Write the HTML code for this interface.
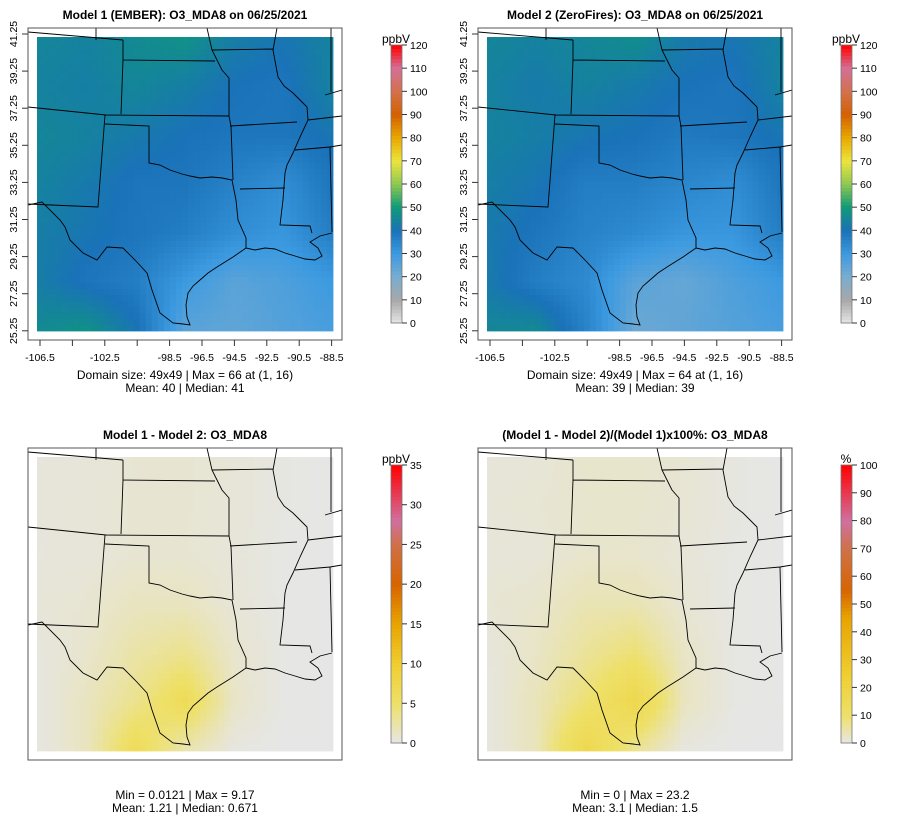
<!DOCTYPE html>
<html><head><meta charset="utf-8">
<style>
html,body{margin:0;padding:0;background:#fff;}
svg{display:block;font-family:"Liberation Sans",sans-serif;}
</style></head>
<body>
<svg id="chart" width="900" height="840" viewBox="0 0 900 840">
<defs>
<clipPath id="boxclip"><rect x="28" y="28" width="314" height="312"/></clipPath>
<g id="borders">
<path fill="none" stroke="#000" stroke-width="0.9" d="
M28,32 L123,40 M96,28 L96,40 M123,40 L123,60 L215,61 M123,60 L121,114
M28,107 L106,115 L229,116
M105,115 L98,207 L28,204
M105,124 L149,126 L149,163 L160,165 L170,170 L182,174 L190,176 L200,178 L212,177 L222,178 L232,180 L236,200 L238,220 L246,238 L246,248
L233,257 L225,262 L217,267 L208,273 L200,280 L193,286 L188,293 L186,305 L187,317 L190,325
L183,324 L173,323 L160,313 L152,290 L147,273 L135,260 L123,248 L107,247 L97,260 L83,253 L70,240 L65,227 L60,220 L42,202 L28,205
M207,28 L212,50 L218,62 L222,70 L229,78 L229,116 L231,126 L233,180
M212,50 L273,49
M277,28 L273,50 L278,77 L284,86 L293,93 L300,100 L307,107 L308,120 L300,137 L293,153 L287,165 L285,173 L283,200 L280,225 L310,226 L312,233
M230,126 L297,122 M308,120 L342,116 M325,95 L342,90
M295,150 L330,147 L342,145 M330,147 L332,232
M240,189 L285,188
M246,248 L255,250 L265,248 L275,249 L285,253 L295,256 L305,259 L315,260 L322,256 L318,248 L310,242 L320,236 L332,233
M331,28 L331,92"/>
</g>
</defs>
<g id="panels"></g>
</svg>
<script>
// ---- data (estimated from reference) ----
const xTickLabels = ["-106.5","","-102.5","","-98.5","-96.5","-94.5","-92.5","-90.5","-88.5"];
const yTickLabels = ["41.25","39.25","37.25","35.25","33.25","31.25","29.25","27.25","25.25"];
const ozoneTicks = [0,10,20,30,40,50,60,70,80,90,100,110,120];
const diffTicks = [0,5,10,15,20,25,30,35];
const pctTicks = [0,10,20,30,40,50,60,70,80,90,100];
const model1Grid = [
 [45,44,46,48,43,41,44],
 [44,43,45,43,40,39,44],
 [45,44,42,40,39,39,41],
 [44,42,39,39,36,33,39],
 [43,41,39,37,33,31,37],
 [43,39,37,30,25,27,30],
 [46,48,41,25,24,26,28]];
const model2Grid = [
 [45,44,45,47,42,41,44],
 [44,42,44,42,40,39,44],
 [44,43,41,40,38,39,41],
 [43,41,37,37,35,33,39],
 [42,39,36,34,31,31,37],
 [42,37,34,25,23,27,30],
 [45,46,36,22,24,26,28]];
const diffGrid = [
 [0.4,0.5,0.8,0.8,0.6,0.2,0],
 [0.5,0.6,0.8,0.8,0.6,0.2,0],
 [0.4,0.5,0.8,0.8,0.5,0.1,0],
 [0.6,0.8,1.5,1.5,0.6,0.1,0],
 [0.3,1.0,2.5,3.5,1.0,0.1,0],
 [0.2,1.5,3.5,6.5,1.2,0.1,0],
 [0.2,1.5,6.5,2.0,0.2,0,0]];
const pctGrid = [
 [1,1.2,2,2,1.5,0.5,0],
 [1.2,1.5,2,2,1.5,0.5,0],
 [1,1.2,2,2,1.2,0.3,0],
 [1.5,2,4,4,1.5,0.3,0],
 [0.8,2.5,6,9,2.5,0.3,0],
 [0.5,3.5,9,17,3,0.3,0],
 [0.5,3.5,17,6,0.5,0,0]];

const ozoneColors=[[0,"#e6e6e6"],[10,"#a8a8a8"],[20,"#78acd0"],[30,"#3c9ae0"],[40,"#1a72b8"],[50,"#0e9a78"],[60,"#8cc850"],[70,"#ece43c"],[80,"#e8a800"],[90,"#d46000"],[100,"#d4704c"],[110,"#d47098"],[120,"#ff0000"]];
const diffColors=[[0,"#e6e6e6"],[5,"#eee068"],[10,"#efce30"],[15,"#e8a400"],[20,"#d86400"],[25,"#d07048"],[28,"#d070a0"],[35,"#ff0000"]];
const pctColors=[[0,"#e6e6e6"],[10,"#eee068"],[25,"#efce30"],[45,"#e8a400"],[55,"#d86400"],[70,"#d07048"],[80,"#d070a0"],[100,"#ff0000"]];

const NS="http://www.w3.org/2000/svg";
const root=document.getElementById('panels');
function el(tag,attrs,parent){const e=document.createElementNS(NS,tag);for(const k in attrs)e.setAttribute(k,attrs[k]);(parent||root).appendChild(e);return e;}
function hex(c){return [1,3,5].map(i=>parseInt(c.substr(i,2),16));}
function colorFor(v,stops){
 if(v<=stops[0][0])return stops[0][1];
 for(let i=1;i<stops.length;i++){if(v<=stops[i][0]){const t=(v-stops[i-1][0])/(stops[i][0]-stops[i-1][0]);const a=hex(stops[i-1][1]),b=hex(stops[i][1]);return "rgb("+a.map((x,j)=>Math.round(x+(b[j]-x)*t)).join(",")+")";}}
 return stops[stops.length-1][1];
}
function sample(grid,fx,fy){
 const n=grid.length-1;const x=Math.min(Math.max(fx*n,0),n),y=Math.min(Math.max(fy*n,0),n);
 const x0=Math.min(Math.floor(x),n-1),y0=Math.min(Math.floor(y),n-1),tx=x-x0,ty=y-y0;
 return grid[y0][x0]*(1-tx)*(1-ty)+grid[y0][x0+1]*tx*(1-ty)+grid[y0+1][x0]*(1-tx)*ty+grid[y0+1][x0+1]*tx*ty;
}
function panel(ox,oy,title,grid,stops,ticks,unit,line1,line2,axes,textY){
 const g=el('g',{transform:`translate(${ox},${oy})`});
 
 
 const t=el('text',{x:185,y:19,'text-anchor':'middle','font-size':12,'font-weight':'bold'},g);t.textContent=title;
 
 
 const N=49,rx=37,ry=37,rw=296,rh=294,cw=rw/N,ch=rh/N;
 const rast=el('g',{},g);
 
 
 for(let r=0;r<N;r++)for(let c=0;c<N;c++){
  const v=sample(grid,(c+0.5)/N,(r+0.5)/N);
  el('rect',{x:(rx+c*cw).toFixed(2),y:(ry+r*ch).toFixed(2),width:(cw+0.4).toFixed(2),height:(ch+0.4).toFixed(2),fill:colorFor(v,stops)},rast);
 }
 const b=el('use',{href:'#borders','clip-path':'url(#boxclip)'},g);
 
 
 const box=el('rect',{x:28,y:28,width:314,height:312,fill:'none',stroke:'#555','stroke-width':1},g);
 
 
 if(axes){
  const xa=el('g',{},g);
  
  
  xTickLabels.forEach((l,i)=>{const x=40+i*32.4;el('line',{x1:x,x2:x,y1:340,y2:346,stroke:'#333'},xa);
   if(l){const tx=el('text',{x:x,y:361,'text-anchor':'middle','font-size':10.5},xa);tx.textContent=l;}});
  const ya=el('g',{},g);
  
  
  yTickLabels.forEach((l,i)=>{const y=34+i*37.1;el('line',{x1:22,x2:28,y1:y,y2:y,stroke:'#333'},ya);
   const ty=el('text',{x:17,y:y,'text-anchor':'middle','font-size':10.5,transform:`rotate(-90 17 ${y})`},ya);ty.textContent=l;});
 }
 const l1=el('text',{x:185,y:textY,'text-anchor':'middle','font-size':12},g);l1.textContent=line1;
 
 
 const l2=el('text',{x:185,y:textY+13,'text-anchor':'middle','font-size':12},g);l2.textContent=line2;
 
 
 const cb=el('g',{},g);
 
 
 const top=45,bot=323,bx=391,bw=11;
 const vmax=ticks[ticks.length-1];
 const steps=80;
 for(let i=0;i<steps;i++){const v=vmax*(i+0.5)/steps;const y0=bot-(i+1)*(bot-top)/steps;
  el('rect',{x:bx,y:y0.toFixed(2),width:bw,height:((bot-top)/steps+0.5).toFixed(2),fill:colorFor(v,stops)},cb);}
 el('rect',{x:bx,y:top,width:bw,height:bot-top,fill:'none',stroke:'#777','stroke-width':0.8},cb);
 ticks.forEach(v=>{const y=bot-(v/vmax)*(bot-top);el('line',{x1:bx+bw,x2:bx+bw+5,y1:y,y2:y,stroke:'#333'},cb);
  const tt=el('text',{x:bx+bw+8,y:y+4,'font-size':10.5},cb);tt.textContent=v;});
 const u=el('text',{x:bx+5,y:top-2,'text-anchor':'middle','font-size':12},cb);u.textContent=unit;
 
 
}
panel(0,0,"Model 1 (EMBER): O3_MDA8 on 06/25/2021",model1Grid,ozoneColors,ozoneTicks,"ppbV","Domain size: 49x49 | Max = 66 at (1, 16)","Mean: 40 |  Median: 41",true,379);
panel(450,0,"Model 2 (ZeroFires): O3_MDA8 on 06/25/2021",model2Grid,ozoneColors,ozoneTicks,"ppbV","Domain size: 49x49 | Max = 64 at (1, 16)","Mean: 39 |  Median: 39",true,379);
panel(0,420,"Model 1 - Model 2: O3_MDA8",diffGrid,diffColors,diffTicks,"ppbV","Min = 0.0121 | Max = 9.17","Mean: 1.21 |  Median: 0.671",false,379);
panel(450,420,"(Model 1 - Model 2)/(Model 1)x100%: O3_MDA8",pctGrid,pctColors,pctTicks,"%","Min = 0 | Max = 23.2","Mean: 3.1 |  Median: 1.5",false,379);
</script>
</body></html>
